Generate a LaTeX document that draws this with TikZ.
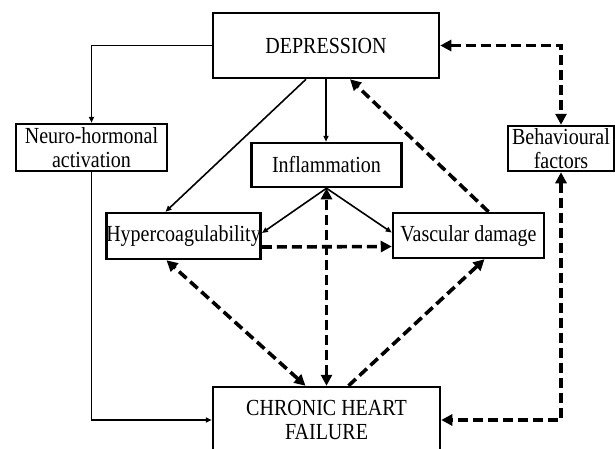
\documentclass[tikz,border=0pt]{standalone}
\usepackage{fontspec}
\setmainfont[FakeStretch=0.87]{Liberation Serif}
\usetikzlibrary{arrows.meta}
\begin{document}
\begin{tikzpicture}[x=1pt,y=-1pt,
  box/.style={draw, line width=2.5pt, align=center, inner sep=0pt, font=\fontsize{23}{24}\selectfont},
  link/.style={line width=1.6pt, -{Triangle[length=6pt,width=5pt]}},
  dashlink/.style={line width=3.6pt, dash pattern=on 10pt off 5pt, -{Triangle[length=11pt,width=11pt]}},
  dashboth/.style={dashlink, {Triangle[length=11pt,width=11pt]}-{Triangle[length=11pt,width=11pt]}}]
\useasboundingbox (0,0) rectangle (615,448);
\node[box, minimum width=226pt, minimum height=65pt] (dep) at (326,45.5) {DEPRESSION};
\node[box, minimum width=151pt, minimum height=47pt] (neuro) at (91.5,147.5) {Neuro-hormonal\\activation};
\node[box, minimum width=150pt, minimum height=44pt] (infl) at (326.5,165) {Inflammation};
\node[box, minimum width=106pt, minimum height=45pt] (behav) at (561,148.5) {Behavioural\\factors};
\node[box, minimum width=151pt, minimum height=46pt] (hyper) at (183.5,236) {Hypercoagulability};
\node[box, minimum width=151pt, minimum height=45pt] (vasc) at (468.5,235.5) {Vascular damage};
\node[box, minimum width=227pt, minimum height=66pt] (chf) at (326.5,420) {CHRONIC HEART\\FAILURE};
\draw[link] (dep.west) -| (neuro.north);
\draw[link] (neuro.south) |- (chf.west);
\draw[link] ([xshift=-20pt]dep.south) -- ([xshift=-18pt]hyper.north);
\draw[link] (dep.south) -- (dep.south |- infl.north);
\draw[link] (infl.south) -- ([yshift=3pt]hyper.east);
\draw[link] (infl.south) -- ([yshift=3pt]vasc.west);
\draw[dashlink] ([yshift=-11pt]hyper.east) -- ([yshift=-11pt]vasc.west);
\draw[dashlink] ([xshift=20pt]vasc.north) -- ([xshift=24pt]dep.south);
\draw[dashboth] (dep.east) -| (behav.north);
\draw[dashboth] (behav.south) |- (chf.east);
\draw[dashboth] ([xshift=-21pt]chf.north) -- ([xshift=-17pt]hyper.south);
\draw[dashboth] (chf.north) -- (infl.south);
\draw[dashlink] ([xshift=22pt]chf.north) -- ([xshift=16pt]vasc.south);
\end{tikzpicture}
\end{document}
